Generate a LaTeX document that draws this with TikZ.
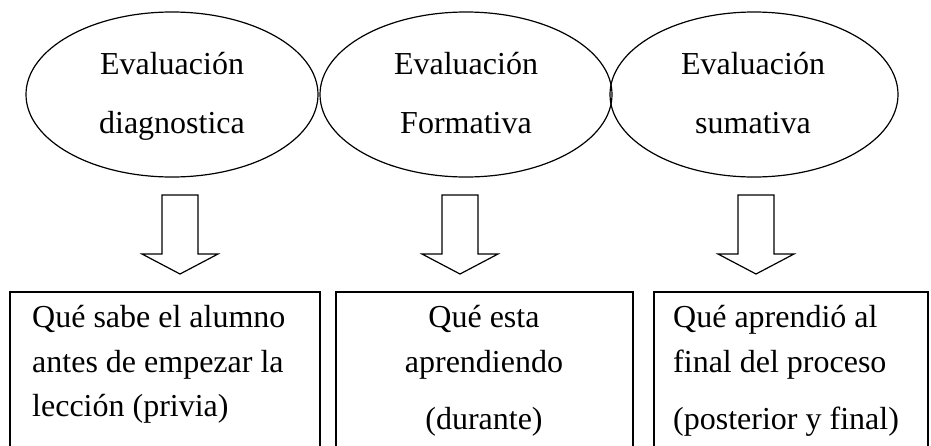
\documentclass[tikz,border=0pt]{standalone}
\usepackage{fontspec}
\setmainfont{Liberation Serif}
\usetikzlibrary{shapes.geometric}
\begin{document}
\begin{tikzpicture}[x=1pt,y=-1pt,
  ln/.style={line width=1.2pt, black},
  oval/.style={ln, draw, ellipse, inner sep=0pt, minimum height=165pt},
  txt/.style={font=\fontsize{32}{38}\selectfont, inner sep=0pt},
  blockarrow/.style={ln, draw, fill=white, line join=miter}
]
\useasboundingbox (0,0) rectangle (931,445);
\clip (0,0) rectangle (931,445);
% ellipses
\node[oval, minimum width=292pt] (e1) at (172,94.5) {};
\node[oval, minimum width=292pt] (e2) at (466,94.5) {};
\node[oval, minimum width=288pt] (e3) at (754,94.5) {};
\node[txt, anchor=base] (e1a) at (172,74) {Evaluación};
\node[txt, anchor=base] (e1b) at (172,133) {diagnostica};
\node[txt, anchor=base] (e2a) at (466,74) {Evaluación};
\node[txt, anchor=base] (e2b) at (466,133) {Formativa};
\node[txt, anchor=base] (e3a) at (753,74) {Evaluación};
\node[txt, anchor=base] (e3b) at (753,133) {sumativa};
% block arrows
\foreach \cx/\nm in {180/a1, 460/a2, 756/a3}{
  \draw[blockarrow] (\cx-18,195) -- (\cx+18,195) -- (\cx+18,254) -- (\cx+38,254)
    -- (\cx,274) -- (\cx-38,254) -- (\cx-18,254) -- cycle;
}
% boxes (open at the bottom edge of the picture)
\draw[ln] (10,460) -- (10,292) -- (320,292) -- (320,460);
\draw[ln] (336,460) -- (336,292) -- (633,292) -- (633,460);
\draw[ln] (654,460) -- (654,292) -- (928,292) -- (928,460);
% box texts
\node[txt, anchor=base west] (b1a) at (32,327) {Qué sabe el alumno};
\node[txt, anchor=base west] (b1b) at (32,372) {antes de empezar la};
\node[txt, anchor=base west] (b1c) at (32,416) {lección (privia)};
\node[txt, anchor=base] (b2a) at (484,327) {Qué esta};
\node[txt, anchor=base] (b2b) at (484,372) {aprendiendo};
\node[txt, anchor=base] (b2c) at (484,429) {(durante)};
\node[txt, anchor=base west] (b3a) at (673,327) {Qué aprendió al};
\node[txt, anchor=base west] (b3b) at (673,372) {final del proceso};
\node[txt, anchor=base west] (b3c) at (673,429) {(posterior y final)};
\end{tikzpicture}
\end{document}
